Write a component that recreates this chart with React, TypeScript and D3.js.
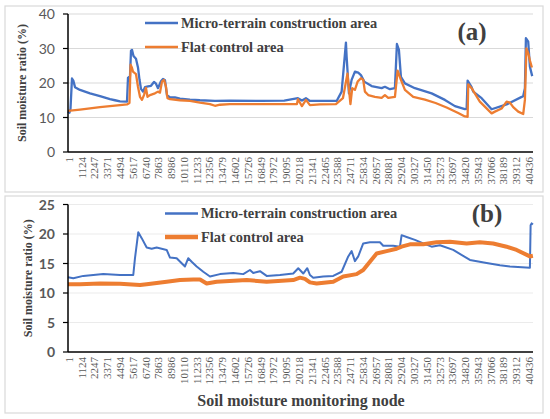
import React from 'react';
import * as d3 from 'd3';

// node labels shown on the category axis
const nodeTicks = [1, 1124, 2247, 3371, 4494, 5617, 6740, 7863, 8986, 10110, 11233, 12356, 13479, 14602, 15726, 16849, 17972, 19095, 20218, 21341, 22465, 23588, 24711, 25834, 26957, 28081, 29204, 30327, 31450, 32573, 33697, 34820, 35943, 37066, 38189, 39312, 40436];
const nodeMax = 40860;

const ticksA = [0, 10, 20, 30, 40];
const ticksB = [0, 5, 10, 15, 20, 25];

const seriesNames = ['Micro-terrain construction area', 'Flat control area'];

// (a)
const microA: [number, number][] = [
  [1, 11.8], [130, 11.4], [220, 12.5], [352, 21.3], [480, 20.6], [616, 18.8], [1055, 18.0], [1934, 17.0], [2812, 16.2], [3691, 15.3], [4130, 15.0], [4569, 14.7], [5184, 14.6], [5272, 21.5], [5448, 22.0], [5536, 29.3], [5623, 29.6], [5755, 27.8], [5975, 27.0], [6150, 24.5], [6282, 21.0], [6414, 18.3], [6590, 17.5], [6765, 18.8], [7029, 19.0], [7293, 19.2], [7556, 20.3], [7732, 19.8], [7908, 18.5], [8171, 20.5], [8347, 21.2], [8523, 20.8], [8698, 16.5], [8962, 15.8], [9401, 15.8], [9840, 15.5], [10719, 15.2], [11597, 15.0], [12915, 14.8], [14232, 14.9], [17000, 14.8], [19000, 14.9], [20206, 15.6], [20557, 14.9], [20909, 15.6], [21260, 14.8], [23606, 14.8], [24045, 17.5], [24423, 31.7], [24484, 27.6], [24686, 17.0], [24923, 20.9], [25213, 23.3], [25503, 23.0], [25740, 22.3], [26030, 20.4], [26680, 19.1], [27559, 18.5], [27849, 18.9], [28288, 18.2], [28728, 18.5], [28903, 31.3], [29079, 29.6], [29255, 21.8], [29606, 19.9], [30485, 18.5], [31952, 17.0], [33120, 15.1], [33999, 13.3], [34877, 12.4], [35027, 12.5], [35115, 20.7], [35466, 18.8], [35607, 17.5], [36345, 15.6], [37223, 12.4], [38541, 13.8], [40000, 16.2], [40149, 18.5], [40237, 33.0], [40439, 32.0], [40588, 24.7], [40790, 22.0],
];
const flatA: [number, number][] = [
  [1, 11.9], [1055, 12.3], [2812, 13.0], [4569, 13.6], [5184, 13.8], [5400, 14.2], [5500, 25.3], [5600, 24.6], [5711, 23.3], [5975, 22.6], [6150, 18.9], [6326, 16.0], [6502, 15.1], [6677, 16.5], [6853, 18.6], [6985, 16.0], [7204, 16.5], [7644, 17.0], [7908, 17.5], [8083, 17.2], [8259, 20.4], [8435, 20.9], [8611, 18.9], [8742, 15.6], [8962, 15.3], [9840, 15.0], [10719, 14.8], [11597, 14.3], [12476, 13.9], [12915, 13.4], [13354, 13.7], [14232, 13.9], [17000, 13.9], [20118, 13.9], [20206, 15.3], [20557, 13.3], [20909, 15.1], [21260, 13.6], [22138, 13.8], [23544, 13.9], [24159, 15.6], [24555, 22.7], [24819, 13.9], [24976, 18.5], [25213, 18.0], [25450, 20.4], [25740, 21.4], [25942, 20.9], [26091, 17.5], [26381, 16.5], [26970, 16.0], [27559, 15.7], [27849, 16.5], [28139, 15.7], [28728, 16.0], [28965, 23.6], [29255, 20.9], [29606, 18.0], [30335, 16.0], [31364, 15.2], [32300, 14.2], [33269, 12.9], [34288, 11.3], [34877, 10.3], [35115, 10.2], [35168, 19.6], [35466, 18.5], [36187, 14.6], [37223, 11.2], [37513, 11.7], [38101, 12.6], [38541, 14.6], [38831, 14.3], [39121, 13.0], [39560, 11.7], [40000, 11.0], [40149, 15.1], [40281, 30.0], [40457, 28.5], [40588, 26.5], [40764, 24.5],
];

// (b)
const microB: [number, number][] = [
  [1, 12.66], [467, 12.5], [1345, 12.9], [3102, 13.2], [4569, 13.05], [5737, 13.05], [5887, 15.9], [6177, 20.3], [6476, 19.3], [6915, 17.7], [7354, 17.5], [7793, 17.7], [8672, 17.3], [8962, 16.0], [9550, 15.9], [10279, 14.5], [10569, 15.9], [10868, 15.3], [11307, 14.5], [11887, 13.6], [12476, 12.8], [13354, 13.2], [14522, 13.4], [15401, 13.2], [15989, 13.9], [16279, 13.4], [16868, 13.7], [17456, 12.9], [18625, 13.05], [19793, 13.3], [20233, 14.2], [20672, 13.3], [21023, 14.2], [21260, 13.05], [21550, 12.6], [22428, 12.8], [23307, 12.9], [24045, 13.6], [24625, 16.2], [24923, 17.1], [25213, 15.4], [25503, 16.2], [25942, 18.4], [26531, 18.6], [27409, 18.6], [27699, 18.0], [28578, 18.0], [29167, 17.85], [29316, 19.8], [29755, 19.5], [30485, 19.0], [31214, 18.4], [31952, 17.85], [32681, 18.1], [33849, 17.3], [35317, 15.6], [36784, 15.1], [37953, 14.7], [38831, 14.5], [40588, 14.3], [40650, 21.5], [40738, 21.8], [40852, 21.6],
];
const flatB: [number, number][] = [
  [1, 11.5], [1055, 11.5], [2812, 11.6], [4569, 11.55], [6326, 11.35], [6915, 11.5], [8672, 11.9], [9840, 12.2], [11009, 12.3], [11597, 12.3], [12186, 11.6], [13064, 11.9], [15700, 12.2], [17456, 11.9], [19793, 12.2], [20382, 12.6], [20821, 12.4], [21260, 11.8], [21849, 11.6], [23307, 11.9], [24186, 12.8], [25358, 13.2], [25942, 13.9], [26531, 15.3], [27120, 16.7], [27998, 17.1], [28876, 17.5], [29316, 17.85], [30045, 18.25], [31214, 18.25], [32388, 18.6], [33560, 18.7], [35027, 18.4], [36187, 18.6], [37360, 18.4], [38541, 17.85], [39419, 17.3], [40588, 16.2], [40852, 16.3],
];

const BLUE = '#4472C4';
const ORANGE = '#ED7D31';
const SERIF = '"Liberation Serif", "Times New Roman", serif';
const SANS = 'Lato, "Open Sans", sans-serif';

const x = d3.scaleLinear().domain([1, nodeMax]).range([68, 533]);

interface PanelProps {
  frame: [number, number, number, number];
  yRange: [number, number];
  yMax: number;
  ticks: number[];
  micro: [number, number][];
  flat: [number, number][];
  widths: [number, number];
  boldTicks: boolean;
  gridColor: string;
  titleX: number;
  legendX: number;
  legendY: [number, number];
  tag: string;
  tagX: number;
  tagY: number;
}

const Panel: React.FC<PanelProps> = (p) => {
  const y = d3.scaleLinear().domain([0, p.yMax]).range(p.yRange);
  const line = d3.line<[number, number]>().x(d => x(d[0])).y(d => y(d[1]));
  const [x0, x1] = x.range();
  const yBase = y(0);
  const yMid = (y(0) + y(p.yMax)) / 2;
  return (
    <g>
      <rect x={p.frame[0]} y={p.frame[1]} width={p.frame[2]} height={p.frame[3]} fill="#fff" stroke="#d9d9d9" strokeWidth={1.2} />
      {p.ticks.filter(t => t > 0).map(t => (
        <line key={t} x1={x0} x2={x1} y1={y(t)} y2={y(t)} stroke={p.gridColor} strokeWidth={1} />
      ))}
      <path d={line(p.micro) || ''} fill="none" stroke={BLUE} strokeWidth={p.widths[0]} strokeLinejoin="round" />
      <path d={line(p.flat) || ''} fill="none" stroke={ORANGE} strokeWidth={p.widths[1]} strokeLinejoin="round" />
      <line x1={x0} x2={x0} y1={y(p.yMax)} y2={yBase} stroke="#000" strokeWidth={1.5} />
      <line x1={x0} x2={x1} y1={yBase} y2={yBase} stroke="#000" strokeWidth={1.5} />
      {p.ticks.map(t => (
        <g key={t}>
          <line x1={x0 - 5} x2={x0} y1={y(t)} y2={y(t)} stroke="#000" strokeWidth={1.2} />
          <text x={x0 - 13} y={y(t)} dy="0.36em" textAnchor="end" fontFamily={SANS} fontSize={14}
            fontWeight={p.boldTicks ? 'bold' : 'normal'} fill="#595959">{t}</text>
        </g>
      ))}
      {nodeTicks.map(n => (
        <text key={n} transform={`translate(${x(n) + 1},${yBase + 5}) rotate(-90)`} dy="0.35em" textAnchor="end"
          fontFamily={SERIF} fontSize={11} fill="#595959">{n}</text>
      ))}
      <text transform={`translate(${p.titleX},${yMid}) rotate(-90)`} dy="0.35em" textAnchor="middle"
        fontFamily={SERIF} fontWeight="bold" fontSize={12} fill="#404040">Soil moisture ratio (%)</text>
      {seriesNames.map((name, i) => (
        <g key={name}>
          <line x1={p.legendX} x2={p.legendX + 33} y1={p.legendY[i]} y2={p.legendY[i]}
            stroke={i === 0 ? BLUE : ORANGE} strokeWidth={p.widths[i] + 0.3} />
          <text x={p.legendX + 36} y={p.legendY[i]} dy="0.33em" fontFamily={SERIF} fontWeight="bold"
            fontSize={14.4} fill="#404040">{name}</text>
        </g>
      ))}
      <text x={p.tagX} y={p.tagY} textAnchor="middle" fontFamily={SERIF} fontWeight="bold" fontSize={25} fill="#404040">{p.tag}</text>
    </g>
  );
};

export default function App() {
  return (
    <div style={{ position: 'absolute', left: 0, top: 0 }}>
      <svg width={550} height={419} style={{ display: 'block' }}>
        <rect width={550} height={419} fill="#fff" />
        <Panel frame={[5, 6, 538, 186]} yRange={[152, 14]} yMax={40} ticks={ticksA} micro={microA} flat={flatA}
          widths={[2.3, 2.3]} boldTicks={false} gridColor="#d9d9d9" titleX={22} legendX={145} legendY={[23, 47]}
          tag="(a)" tagX={472} tagY={40} />
        <Panel frame={[5, 196, 538, 217]} yRange={[352, 204.5]} yMax={25} ticks={ticksB} micro={microB} flat={flatB}
          widths={[2, 4]} boldTicks={true} gridColor="#ebebeb" titleX={28} legendX={165} legendY={[213.5, 237]}
          tag="(b)" tagX={487} tagY={222} />
        <text x={301} y={406} textAnchor="middle" fontFamily={SERIF} fontWeight="bold" fontSize={16} fill="#404040">
          Soil moisture monitoring node
        </text>
      </svg>
    </div>
  );
}
